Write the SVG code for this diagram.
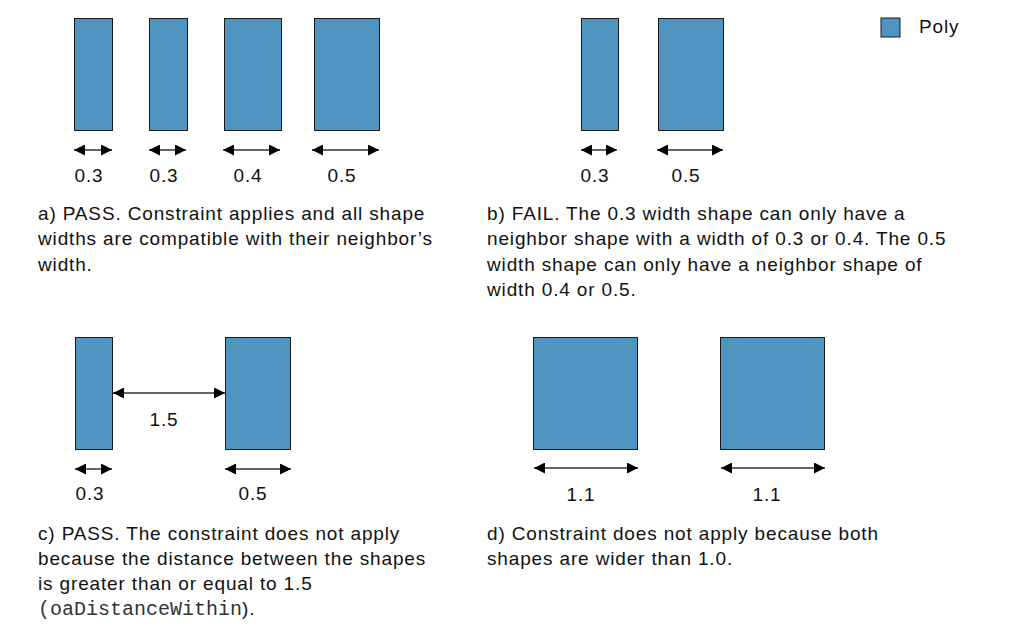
<svg xmlns="http://www.w3.org/2000/svg" width="1013" height="634" viewBox="0 0 1013 634">
<style>
.shape{fill:#4f93c1;stroke:#1a1a1a;stroke-width:1}
.dim{stroke:#333;stroke-width:1.5;fill:none;marker-start:url(#ah);marker-end:url(#ah)}
.lbl{font-family:"Liberation Sans",Arial,sans-serif;font-size:19px;letter-spacing:0.8px;fill:#111;text-anchor:middle}
.txt{font-family:"Liberation Sans",Arial,sans-serif;font-size:19px;letter-spacing:0.85px;fill:#111}
.mono{font-family:"Liberation Mono","Courier New",monospace;font-size:20px;letter-spacing:0;fill:#333}
</style>
<defs>
<marker id="ah" viewBox="0 0 10 10" refX="10" refY="5" markerWidth="11" markerHeight="11" markerUnits="userSpaceOnUse" orient="auto-start-reverse">
<path d="M0,0 L10,5 L0,10 Z" fill="#000"/>
</marker>
</defs>
<rect width="1013" height="634" fill="#fff"/>
<g id="legend">
<rect class="shape" x="881" y="18" width="19" height="19"/>
<text class="txt" x="919" y="32.5">Poly</text>
</g>
<g id="panel-a">
<rect class="shape" x="74.5" y="18.5" width="38" height="112"/>
<rect class="shape" x="149.5" y="18.5" width="38" height="112"/>
<rect class="shape" x="224.5" y="18.5" width="57" height="112"/>
<rect class="shape" x="314.5" y="18.5" width="65" height="112"/>
<text class="lbl" x="89" y="182">0.3</text>
<text class="lbl" x="164" y="182">0.3</text>
<text class="lbl" x="248" y="182">0.4</text>
<text class="lbl" x="342" y="182">0.5</text>
<text class="txt" x="38" y="219.5">a) PASS. Constraint applies and all shape</text>
<text class="txt" x="38" y="245">widths are compatible with their neighbor’s</text>
<text class="txt" x="38" y="270.5">width.</text>
</g>
<g id="panel-b">
<rect class="shape" x="581.5" y="18.5" width="37" height="112"/>
<rect class="shape" x="658.5" y="18.5" width="65" height="112"/>
<text class="lbl" x="595" y="182">0.3</text>
<text class="lbl" x="686" y="182">0.5</text>
<text class="txt" x="487" y="219.5">b) FAIL. The 0.3 width shape can only have a</text>
<text class="txt" x="487" y="245">neighbor shape with a width of 0.3 or 0.4. The 0.5</text>
<text class="txt" x="487" y="270.5">width shape can only have a neighbor shape of</text>
<text class="txt" x="487" y="296">width 0.4 or 0.5.</text>
</g>
<g id="panel-c">
<rect class="shape" x="75.5" y="337.5" width="37" height="112"/>
<rect class="shape" x="225.5" y="337.5" width="65" height="112"/>
<text class="lbl" x="164" y="426">1.5</text>
<text class="lbl" x="90" y="500">0.3</text>
<text class="lbl" x="253" y="500">0.5</text>
<text class="txt" x="38" y="539.5">c) PASS. The constraint does not apply</text>
<text class="txt" x="38" y="564.5">because the distance between the shapes</text>
<text class="txt" x="38" y="589.5">is greater than or equal to 1.5</text>
<text class="txt" x="38" y="614.5"><tspan class="mono">(oaDistanceWithin</tspan>).</text>
</g>
<g id="panel-d">
<rect class="shape" x="533.5" y="337.5" width="104" height="112"/>
<rect class="shape" x="720.5" y="337.5" width="104" height="112"/>
<text class="lbl" x="581" y="501">1.1</text>
<text class="lbl" x="767" y="501">1.1</text>
<text class="txt" x="487" y="539.5">d) Constraint does not apply because both</text>
<text class="txt" x="487" y="564.5">shapes are wider than 1.0.</text>
</g>
<g id="connectors">
<line class="dim" x1="74" y1="150" x2="112" y2="150"/>
<line class="dim" x1="149" y1="150" x2="186" y2="150"/>
<line class="dim" x1="223" y1="150" x2="280" y2="150"/>
<line class="dim" x1="312" y1="150" x2="379" y2="150"/>
<line class="dim" x1="581" y1="150" x2="617" y2="150"/>
<line class="dim" x1="657" y1="150" x2="723" y2="150"/>
<line class="dim" x1="113" y1="393" x2="225" y2="393"/>
<line class="dim" x1="75" y1="469" x2="112" y2="469"/>
<line class="dim" x1="225" y1="469" x2="291" y2="469"/>
<line class="dim" x1="534" y1="468" x2="638" y2="468"/>
<line class="dim" x1="721" y1="468" x2="825" y2="468"/>
</g>
</svg>
